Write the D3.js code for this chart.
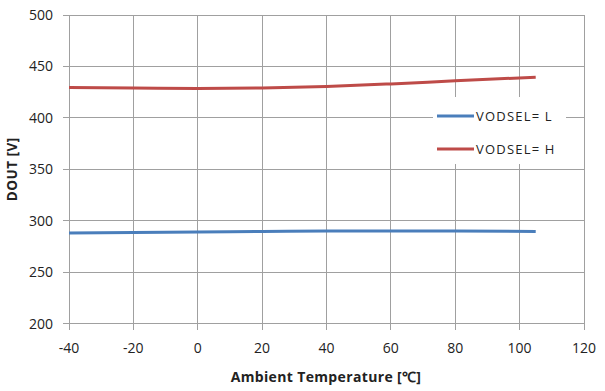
<!DOCTYPE html>
<html><head><meta charset="utf-8">
<script src="https://cdn.jsdelivr.net/npm/d3@7"></script>
<style>body{margin:0;background:#fff}svg{display:block}text{font-family:"Open Sans",sans-serif}</style>
</head><body><svg id="c" width="605" height="391"></svg>
<script>
const temps = [-40, -20, 0, 20, 40, 60, 80, 105];
const voutL = [288, 288.5, 289, 289.5, 290, 290, 290, 289.5];
const voutH = [429.5, 429, 428.5, 429, 430.5, 433, 436, 439.5];
const seriesNames = ["VODSEL= L", "VODSEL= H"];
const seriesColors = ["#4a7ebb", "#be4b48"];
const xTicks = [-40, -20, 0, 20, 40, 60, 80, 100, 120];
const yTicks = [200, 250, 300, 350, 400, 450, 500];

const svg = d3.select("#c");
const x = d3.scaleLinear().domain([-40, 120]).range([69, 584]);
const y = d3.scaleLinear().domain([200, 500]).range([323.5, 15]);
const grid = "#a0a0a0";

// gridlines
svg.append("g").selectAll("line").data(yTicks).join("line")
  .attr("x1", x(-40) - 6).attr("x2", x(120)).attr("y1", d => y(d)).attr("y2", d => y(d))
  .attr("stroke", grid).attr("stroke-width", 1).attr("shape-rendering", "crispEdges");
svg.append("g").selectAll("line").data(xTicks).join("line")
  .attr("x1", d => x(d)).attr("x2", d => x(d)).attr("y1", y(500)).attr("y2", y(200) + 6)
  .attr("stroke", grid).attr("stroke-width", 1).attr("shape-rendering", "crispEdges");

// tick labels
svg.append("g").selectAll("text").data(yTicks).join("text")
  .attr("x", x(-40) - 16).attr("y", d => y(d)).attr("dy", "0.36em")
  .attr("text-anchor", "end").attr("font-size", 14).attr("fill", "#222").text(d => d);
svg.append("g").selectAll("text").data(xTicks).join("text")
  .attr("x", d => x(d)).attr("y", 353)
  .attr("text-anchor", "middle").attr("font-size", 14).attr("fill", "#222").text(d => d);

// axis titles
svg.append("text").attr("x", 326).attr("y", 382)
  .attr("text-anchor", "middle").attr("font-size", 14).attr("font-weight", "bold").attr("fill", "#222")
  .attr("letter-spacing", 0.35)
  .text("Ambient Temperature [℃]");
svg.append("text").attr("transform", `translate(17,${(y(200) + y(500)) / 2}) rotate(-90)`)
  .attr("text-anchor", "middle").attr("font-size", 13.5).attr("font-weight", "bold").attr("fill", "#222")
  .attr("letter-spacing", 0.5)
  .text("DOUT [V]");

// lines
const line = d3.line().x(d => x(d[0])).y(d => y(d[1])).curve(d3.curveMonotoneX);
[voutL, voutH].forEach((vals, i) => {
  svg.append("path").datum(temps.map((t, j) => [t, vals[j]]))
    .attr("d", line).attr("fill", "none").attr("stroke", seriesColors[i])
    .attr("stroke-width", 3).attr("stroke-linecap", "butt");
});

// legend
const lg = svg.append("g");
lg.append("rect").attr("x", 433).attr("y", 97).attr("width", 133).attr("height", 67).attr("fill", "#fff");
seriesNames.forEach((n, i) => {
  const yy = 116 + i * 33;
  lg.append("line").attr("x1", 437).attr("x2", 474).attr("y1", yy).attr("y2", yy)
    .attr("stroke", seriesColors[i]).attr("stroke-width", 3);
  lg.append("text").attr("x", 476).attr("y", yy).attr("dy", "0.36em")
    .attr("font-size", 13).attr("letter-spacing", 1.2).attr("fill", "#222").text(n);
});
</script></body></html>
